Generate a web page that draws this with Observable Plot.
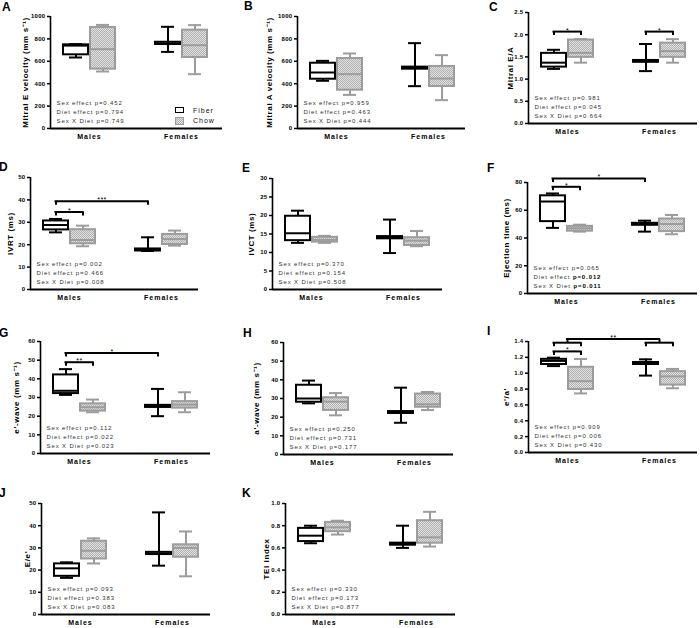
<!DOCTYPE html>
<html><head><meta charset="utf-8">
<script src="https://cdn.jsdelivr.net/npm/d3@7"></script>
<script src="https://cdn.jsdelivr.net/npm/@observablehq/plot@0.6"></script>
<style>
body{margin:0;background:#fff;}
#fig{position:relative;width:700px;height:628px;overflow:hidden;font-family:"Liberation Sans",Arial,sans-serif;background:#fff;}
.panel{position:absolute;}
.letter{position:absolute;font-weight:bold;font-size:12px;line-height:12px;color:#000;}
.leg{position:absolute;font-size:7px;letter-spacing:1px;line-height:8px;color:#111;}
.sw{position:absolute;width:7px;height:4px;border:1.5px solid #000;background:#fff;}
.sw.chow{border-color:#9c9c9c;background:repeating-conic-gradient(#b4b4b4 0 25%,#e0e0e0 0 50%) 0 0/2px 2px;height:6px;}
g[aria-label="y-axis tick label"]{font-size:6px;font-weight:bold;letter-spacing:.3px;}
g[aria-label="x-axis tick label"]{font-size:7px;font-weight:bold;letter-spacing:1px;}
g[aria-label="y-axis label"]{font-size:8px;font-weight:bold;letter-spacing:.6px;}
</style></head>
<body>
<svg width="0" height="0" style="position:absolute">
<defs><pattern id="hatch" width="2" height="2" patternUnits="userSpaceOnUse"><rect width="2" height="2" fill="#e0e0e0"/><rect width="1" height="1" fill="#b2b2b2"/><rect x="1" y="1" width="1" height="1" fill="#b2b2b2"/></pattern></defs></svg>
<div id="fig"></div>
<script>
// ---------- data ----------
const groups = ["Males", "Females"];
const diets = ["Fiber", "Chow"];
const statLabels = ["Sex effect", "Diet effect", "Sex X Diet"];
// rows: Males-Fiber, Males-Chow, Females-Fiber, Females-Chow ; [min, q1, median, q3, max]
const mitralE   = [[634,658,740,747,753],[509,530,708,902,925],[684,750,760,770,908],[485,634,744,878,923]];
const mitralA   = [[426,440,500,583,604],[300,342,485,625,670],[378,530,539,548,762],[253,375,446,554,655]];
const mitralEA  = [[1.23,1.27,1.37,1.58,1.66],[1.37,1.49,1.59,1.88,1.90],[1.18,1.38,1.40,1.42,1.79],[1.37,1.49,1.63,1.81,1.90]];
const ivrt      = [[25.5,26.6,28.8,30.6,31.5],[19.3,20.4,22.1,26.7,28.5],[17.2,17.2,17.6,18.1,23.3],[19.6,20.1,22.5,24.6,26.3]];
const ivct      = [[12.6,13.2,15.2,19.8,21.3],[12.6,12.8,13.4,14.1,14.5],[9.85,13.7,14.0,14.3,18.9],[11.7,11.9,13.2,14.0,15.8]];
const ejection  = [[47.3,51.8,66.3,70.4,72.1],[44.6,44.9,47.0,48.4,49.6],[44.6,49.2,49.9,50.6,52.5],[42.7,44.6,50.1,53.7,56.6]];
const eWave     = [[31.4,32.1,33.6,42.1,45.2],[22.1,22.7,24.8,26.6,28.9],[20.0,24.7,25.2,25.8,34.6],[22.1,24.3,26.2,27.8,32.8]];
const aWave     = [[27.4,28.0,30.0,37.1,39.6],[21.0,23.6,28.3,30.4,32.9],[17.0,22.0,22.4,23.0,35.8],[23.8,25.3,26.9,32.4,33.5]];
const eaPrime   = [[1.09,1.11,1.155,1.175,1.196],[0.745,0.795,0.90,1.075,1.18],[0.97,1.11,1.12,1.135,1.175],[0.81,0.85,0.96,1.02,1.054]];
const eePrime   = [[16.5,17.2,20.8,22.8,23.5],[23.0,25.0,28.7,33.0,34.3],[22.0,27.0,27.5,28.0,46.0],[17.2,25.8,30.0,31.4,37.4]];
const teiIndex  = [[0.642,0.657,0.71,0.776,0.80],[0.72,0.746,0.785,0.83,0.845],[0.60,0.625,0.633,0.643,0.80],[0.612,0.642,0.695,0.845,0.925]];

const ticks1000 = [0,200,400,600,800,1000];
const ticks25 = [0,0.5,1.0,1.5,2.0,2.5];
const ticks50 = [0,10,20,30,40,50];
const ticks30 = [0,5,10,15,20,25,30];
const ticks80 = [0,20,40,60,80];
const ticks60 = [0,10,20,30,40,50,60];
const ticks14 = [0,0.2,0.4,0.6,0.8,1.0,1.2,1.4];
const ticks10 = [0,0.2,0.4,0.6,0.8,1.0];

const pA = ["0.452","0.794","0.749"], pB = ["0.959","0.463","0.444"], pC = ["0.981","0.045","0.664"];
const pD = ["0.002","0.466","0.008"], pE = ["0.370","0.154","0.508"], pF = ["0.065","0.012","0.011"];
const pG = ["0.112","0.022","0.023"], pH = ["0.250","0.731","0.177"], pI = ["0.909","0.006","0.430"];
const pJ = ["0.093","0.383","0.083"], pK = ["0.330","0.173","0.877"];

const bracketsC = [{from:["Males","Fiber"],to:["Males","Chow"],y:2.07,label:"*"},{from:["Females","Fiber"],to:["Females","Chow"],y:2.07,label:"*"}];
const bracketsD = [{from:["Males","Fiber"],to:["Males","Chow"],y:34.6,label:"*"},{from:["Males","Fiber"],to:["Females","Fiber"],y:39.4,label:"***"}];
const bracketsF = [{from:["Males","Fiber"],to:["Males","Chow"],y:76.9,label:"*"},{from:["Males","Fiber"],to:["Females","Fiber"],y:82.9,label:"*"}];
const bracketsG = [{from:["Males","Fiber"],to:["Males","Chow"],y:48.9,label:"**"},{from:["Males","Fiber"],to:["Females","Fiber"],y:53.9,label:"*"}];
const bracketsI = [{from:["Males","Fiber"],to:["Males","Chow"],y:1.275,label:"*"},{from:["Males","Fiber"],to:["Males","Chow"],y:1.385,label:""},
                   {from:["Females","Fiber"],to:["Females","Chow"],y:1.385,label:""},{from:["Males"],to:["Females"],y:1.43,label:"**"}];

// ---------- panel specs (layout) ----------
const panels = [
 {k:"A", data:mitralE, label:"Mitral E velocity (mm s⁻¹)", ticks:ticks1000, fmt:"d", p:pA, br:[], x:50, y:16, w:172, h:112, lo:28, lt:[3,11], legend:true},
 {k:"B", data:mitralA, label:"Mitral A velocity (mm s⁻¹)", ticks:ticks1000, fmt:"d", p:pB, br:[], x:297, y:16, w:168, h:112, lo:31, lt:[245,10]},
 {k:"C", data:mitralEA, label:"Mitral E/A", ticks:ticks25, fmt:".1f", p:pC, br:bracketsC, x:528, y:12, w:169, h:111, lo:21, lt:[490,11]},
 {k:"D", data:ivrt, label:"IVRT (ms)", ticks:ticks50, fmt:"d", p:pD, br:bracketsD, x:30, y:177, w:168, h:112, lo:23, lt:[0,171]},
 {k:"E", data:ivct, label:"IVCT (ms)", ticks:ticks30, fmt:"d", p:pE, br:[], x:272, y:178, w:170, h:111, lo:24, lt:[243,172]},
 {k:"F", data:ejection, label:"Ejection time (ms)", ticks:ticks80, fmt:"d", p:pF, bold:[false,true,true], br:bracketsF, x:527, y:182, w:170, h:111, lo:24, lt:[488,172]},
 {k:"G", data:eWave, label:"e'-wave (mm s⁻¹)", ticks:ticks60, fmt:"d", p:pG, br:bracketsG, x:40, y:341, w:170, h:112, lo:27, lt:[0,337]},
 {k:"H", data:aWave, label:"a'-wave (mm s⁻¹)", ticks:ticks60, fmt:"d", p:pH, br:[], x:283, y:342, w:170, h:112, lo:30, lt:[244,337]},
 {k:"I", data:eaPrime, label:"e'/a'", ticks:ticks14, fmt:".1f", p:pI, br:bracketsI, x:528, y:341, w:169, h:111, lo:25, lt:[488,335]},
 {k:"J", data:eePrime, label:"E/e'", ticks:ticks50, fmt:"d", p:pJ, br:[], x:41, y:503, w:169, h:111, lo:17, lt:[0,497]},
 {k:"K", data:teiIndex, label:"TEI index", ticks:ticks10, fmt:".1f", p:pK, br:[], x:285, y:503, w:170, h:111, lo:22, lt:[243,497]}
];

const PX = 92;           // pixels per group unit
const C0 = 39;           // first group centre offset from axis (px)
const OFF = 13.5 / PX;   // diet offset in group units
const ML = 45, MR = 4, MT = 14, MB = 18;

function pos(sex, diet) {
  return groups.indexOf(sex) + (diet == null ? 0 : (diet === diets[0] ? -OFF : OFF));
}
function rows(arr) {
  return arr.map((v, i) => ({sex: groups[i >> 1], diet: diets[i & 1], min: v[0], q1: v[1], med: v[2], q3: v[3], max: v[4]}));
}
function boxMarks(rs, diet) {
  const d = rs.filter(r => r.diet === diet);
  const fiber = diet === diets[0];
  const stroke = fiber ? "#000" : "#9c9c9c";
  const fill = fiber ? "#fff" : "url(#hatch)";
  const x = r => pos(r.sex, r.diet);
  return [
    Plot.ruleX(d, {x, y1: "min", y2: "max", stroke, strokeWidth: 2}),
    Plot.ruleY(d, {x1: x, x2: x, y: "min", insetLeft: -6.5, insetRight: -6.5, stroke, strokeWidth: 2}),
    Plot.ruleY(d, {x1: x, x2: x, y: "max", insetLeft: -6.5, insetRight: -6.5, stroke, strokeWidth: 2}),
    Plot.rect(d, {x1: x, x2: x, y1: "q1", y2: "q3", insetLeft: -12.5, insetRight: -12.5, fill, stroke, strokeWidth: 2}),
    Plot.ruleY(d, {x1: x, x2: x, y: "med", insetLeft: -12.5, insetRight: -12.5, stroke, strokeWidth: 2})
  ];
}
function bracketMarks(br) {
  if (!br.length) return [];
  const seg = br.map(b => ({x1: pos(...b.from), x2: pos(...b.to), y: b.y, label: b.label}));
  const ends = seg.flatMap(s => [{x: s.x1, y: s.y}, {x: s.x2, y: s.y}]);
  return [
    Plot.ruleY(seg, {x1: "x1", x2: "x2", y: "y", stroke: "#000", strokeWidth: 2, insetLeft: -1, insetRight: -1}),
    Plot.ruleX(ends, {x: "x", y1: "y", y2: "y", insetBottom: -4, stroke: "#000", strokeWidth: 2}),
    Plot.text(seg.filter(s => s.label), {x: s => (s.x1 + s.x2) / 2, y: "y", text: "label", dy: 1, lineAnchor: "bottom", textAnchor: "middle", fill: "#000", fontSize: 7})
  ];
}

const fig = document.getElementById("fig");
for (const P of panels) {
  const rs = rows(P.data);
  const top = P.ticks[P.ticks.length - 1];
  const xd = [-C0 / PX, (P.w - C0) / PX];
  const statMarks = statLabels.map((lab, i) => Plot.text([`${lab} p=${P.p[i]}`], {
    frameAnchor: "bottom-left", dx: 6, dy: -(7 + (2 - i) * 9), lineAnchor: "middle", textAnchor: "start", fill: "#333", fontSize: 6
  }));
  const svg = Plot.plot({
    width: ML + P.w + MR, height: MT + P.h + MB,
    marginLeft: ML, marginRight: MR, marginTop: MT, marginBottom: MB,
    style: {background: "transparent", overflow: "visible", fontFamily: "'Liberation Sans', Arial, sans-serif", maxWidth: "none"},
    x: {domain: xd, axis: null},
    y: {domain: [0, top], axis: null},
    marks: [
      ...statMarks,
      ...boxMarks(rs, diets[0]),
      ...boxMarks(rs, diets[1]),
      ...bracketMarks(P.br),
      Plot.axisY({ticks: P.ticks, tickFormat: P.fmt, tickSize: 3, tickPadding: 2, strokeWidth: 1.5,
                  label: P.label, labelAnchor: "center", labelOffset: P.lo, labelArrow: "none"}),
      Plot.axisX({ticks: [0, 1], tickFormat: i => groups[i], tickSize: 0, tickPadding: 6, label: null}),
      Plot.ruleX([xd[0]], {y1: 0, y2: top, stroke: "#000", strokeWidth: 1.6}),
      Plot.ruleY([0], {stroke: "#000", strokeWidth: 1.8})
    ]
  });
  // style the statistics lines; bold p-values where flagged
  const statTexts = [...svg.querySelectorAll("text")].filter(t => statLabels.some(l => t.textContent.startsWith(l + " p=")));
  statTexts.forEach(t => {
    t.style.letterSpacing = "0.9px";
    const i = statLabels.findIndex(l => t.textContent.startsWith(l + " p="));
    if (P.bold && P.bold[i]) {
      const s = t.textContent, k = s.indexOf("p=");
      t.textContent = "";
      const a = document.createElementNS("http://www.w3.org/2000/svg", "tspan"); a.textContent = s.slice(0, k);
      const b = document.createElementNS("http://www.w3.org/2000/svg", "tspan"); b.textContent = s.slice(k);
      b.setAttribute("font-weight", "bold"); b.setAttribute("fill", "#000");
      t.append(a, b);
    }
  });
  [...svg.querySelectorAll("text")].filter(t => /^\*+$/.test(t.textContent)).forEach(t => t.style.letterSpacing = "0.5px");
  const div = document.createElement("div");
  div.className = "panel";
  div.style.left = (P.x - ML) + "px";
  div.style.top = (P.y - MT) + "px";
  div.appendChild(svg);
  fig.appendChild(div);
  const L = document.createElement("div");
  L.className = "letter"; L.textContent = P.k;
  L.style.left = (P.lt[0] - 1) + "px"; L.style.top = (P.lt[1] - 10) + "px";
  fig.appendChild(L);
  if (P.legend) {
    const items = [{name: diets[0], cls: "sw", top: 107}, {name: diets[1], cls: "sw chow", top: 117}];
    for (const it of items) {
      const s = document.createElement("div"); s.className = it.cls;
      s.style.left = (P.x + 125) + "px"; s.style.top = it.top + "px"; fig.appendChild(s);
      const t = document.createElement("div"); t.className = "leg"; t.textContent = it.name;
      t.style.left = (P.x + 143) + "px"; t.style.top = (it.top) + "px"; fig.appendChild(t);
    }
  }
}
</script>
</body></html>
